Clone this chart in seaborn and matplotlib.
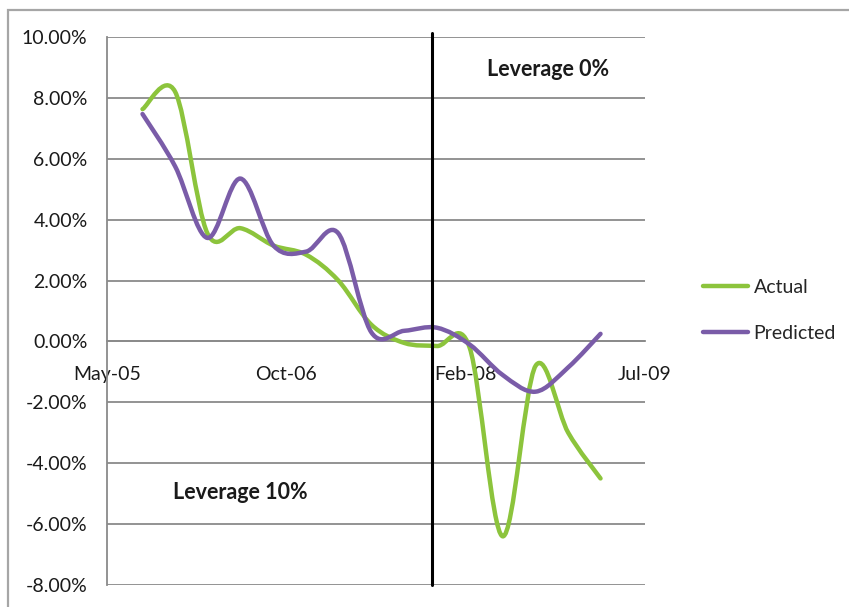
import numpy as np
import pandas as pd
import matplotlib
matplotlib.use("Agg")
import matplotlib.pyplot as plt
import matplotlib.dates as mdates
from matplotlib.path import Path
from matplotlib.patches import PathPatch, Rectangle
from matplotlib.ticker import FuncFormatter, FixedLocator
import seaborn as sns

# quarterly observations, values in %
dates = ["2005-09-01", "2005-12-01", "2006-03-01", "2006-06-01", "2006-09-01",
         "2006-12-01", "2007-03-01", "2007-06-01", "2007-09-01", "2007-12-01",
         "2008-03-01", "2008-06-01", "2008-09-01", "2008-12-01", "2009-03-01"]
actual = [7.63, 8.2, 3.55, 3.72, 3.15, 2.85, 2.0, 0.55, -0.05, -0.15,
          -0.2, -6.4, -0.8, -3.0, -4.5]
predicted = [7.47, 5.75, 3.4, 5.35, 3.15, 2.95, 3.55, 0.3, 0.35, 0.45,
             -0.1, -1.1, -1.65, -0.85, 0.25]
series_names = ["Actual", "Predicted"]
series_colors = ["#8cc43c", "#7a5ca8"]

tick_dates = ["2005-05-25", "2006-10-07", "2008-02-19", "2009-07-03"]
y_ticks = [-8, -6, -4, -2, 0, 2, 4, 6, 8, 10]
regime_break = "2007-11-16"


def smooth_path(x, y):
    # Excel-style smoothed line: Catmull-Rom segments as cubic Beziers
    pts = np.column_stack([x, y])
    pad = np.vstack([pts[0], pts, pts[-1]])
    verts = [pts[0]]
    codes = [Path.MOVETO]
    for i in range(len(pts) - 1):
        p0, p1, p2, p3 = pad[i], pad[i + 1], pad[i + 2], pad[i + 3]
        verts += [p1 + (p2 - p0) / 6, p2 - (p3 - p1) / 6, p2]
        codes += [Path.CURVE4] * 3
    return Path(verts, codes)


sns.set_style("white")
plt.rcParams['font.family'] = ['Lato', 'DejaVu Sans']
grid_col = "#8a8a8a"

xnum = mdates.date2num(pd.to_datetime(dates))
df = pd.DataFrame({
    "x": np.concatenate([xnum, xnum]),
    "value": actual + predicted,
    "series": [series_names[0]] * len(dates) + [series_names[1]] * len(dates),
})

fig = plt.figure(figsize=(8.49, 6.07), dpi=100)
ax = fig.add_axes([107 / 849, 1 - 585 / 607, 538 / 849, 548 / 607])

palette = dict(zip(series_names, series_colors))
sns.lineplot(data=df, x="x", y="value", hue="series", palette=palette,
             linewidth=3.2, sort=False, ax=ax)
# straight segments replaced by the smoothed curves below
for ln in ax.lines:
    ln.set_visible(False)

for name, vals in zip(series_names, [actual, predicted]):
    patch = PathPatch(smooth_path(xnum, vals), facecolor="none",
                      edgecolor=palette[name], lw=3.2, capstyle="round",
                      joinstyle="round", zorder=3)
    ax.add_patch(patch)

ax.axvline(mdates.date2num(pd.Timestamp(regime_break)), color="black",
           lw=2.2, ymax=1.008, clip_on=False, zorder=4)

tick_nums = mdates.date2num(pd.to_datetime(tick_dates))
ax.set_xlim(tick_nums[0], tick_nums[-1])
ax.set_ylim(-8, 10)
ax.xaxis.set_major_locator(FixedLocator(tick_nums))
ax.xaxis.set_major_formatter(mdates.DateFormatter("%b-%y"))
ax.yaxis.set_major_locator(FixedLocator(y_ticks))
ax.yaxis.set_major_formatter(FuncFormatter(lambda v, p: f"{v:.2f}%"))

ax.yaxis.grid(True, color=grid_col, lw=1.3)
ax.xaxis.grid(False)
ax.set_axisbelow(True)
for side in ["top", "right"]:
    ax.spines[side].set_visible(False)
ax.spines["bottom"].set_position(("data", 0))
for side in ["bottom", "left"]:
    ax.spines[side].set_color(grid_col)
    ax.spines[side].set_linewidth(1.3)

ax.tick_params(axis="x", direction="out", length=6, width=1.3,
               color=grid_col, pad=12, labelsize=14, labelcolor="#1a1a1a")
ax.tick_params(axis="y", direction="out", length=5, width=1.3,
               color=grid_col, pad=9, labelsize=14, labelcolor="#1a1a1a")
ax.set_xlabel("")
ax.set_ylabel("")

ax.text(0.82, 0.94, "Leverage 0%", transform=ax.transAxes, ha="center",
        va="center", fontsize=15.5, fontweight="bold", color="#1a1a1a")
ax.text(0.247, 0.168, "Leverage 10%", transform=ax.transAxes, ha="center",
        va="center", fontsize=15.5, fontweight="bold", color="#1a1a1a")

sns.move_legend(ax, "center left", bbox_to_anchor=(703 / 849, 0.4885),
                bbox_transform=fig.transFigure, frameon=False, title=None,
                fontsize=14, handlelength=2.3, handletextpad=0.3,
                labelspacing=1.5, borderpad=0, borderaxespad=0)

# outer chart border
fig.add_artist(Rectangle((8 / 849, -0.2), 1.2, 1.2 - 10 / 607,
                         transform=fig.transFigure, fill=False,
                         edgecolor="#a6a6a6", lw=1.6))

fig.savefig("out.png", dpi=100)
